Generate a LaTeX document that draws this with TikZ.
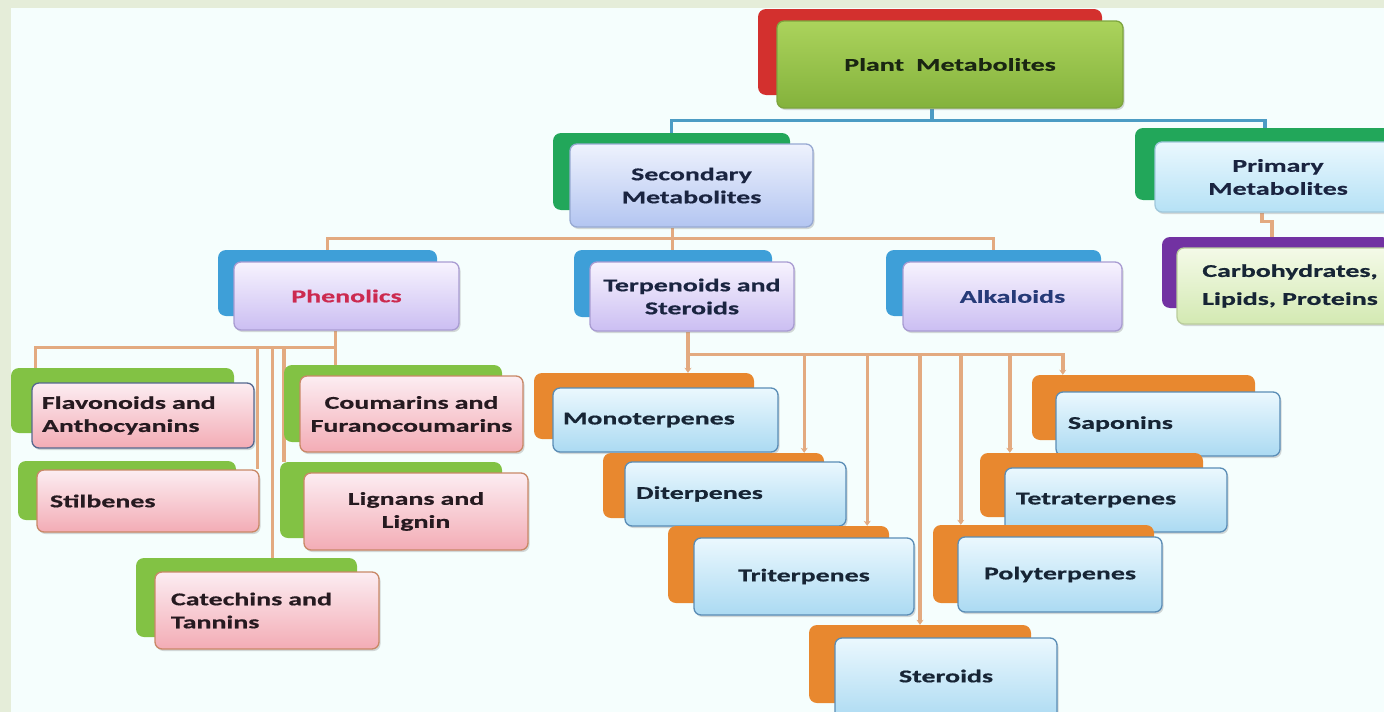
\documentclass[tikz,border=0pt]{standalone}
\usepackage{fontspec}
\newfontfamily\dfont{Carlito}[FakeStretch=1.55,FakeBold=0.6]
\usetikzlibrary{arrows.meta,shadows}
\pgfdeclarelayer{bgl}
\pgfdeclarelayer{lines}
\pgfsetlayers{bgl,lines,main}
\definecolor{bgborder}{HTML}{E5EDD9}
\definecolor{bginner}{HTML}{F5FEFD}
\definecolor{cred}{HTML}{D3302E}
\definecolor{plTop}{HTML}{ABD35C}
\definecolor{plBot}{HTML}{84B23C}
\definecolor{plLine}{HTML}{7DA53E}
\definecolor{cemer}{HTML}{22A75A}
\definecolor{secTop}{HTML}{EEF2FD}
\definecolor{secBot}{HTML}{B3C5F1}
\definecolor{secLine}{HTML}{97A9D2}
\definecolor{priTop}{HTML}{EAF8FE}
\definecolor{priBot}{HTML}{B5E1F5}
\definecolor{priLine}{HTML}{A0C8DC}
\definecolor{cpurp}{HTML}{7232A2}
\definecolor{carTop}{HTML}{F4FAE8}
\definecolor{carBot}{HTML}{D3E9B2}
\definecolor{carLine}{HTML}{BACD9C}
\definecolor{cblue}{HTML}{3E9FD8}
\definecolor{lavTop}{HTML}{F7F3FE}
\definecolor{lavBot}{HTML}{CBBEF2}
\definecolor{lavLine}{HTML}{A99CD2}
\definecolor{lgreen}{HTML}{82C244}
\definecolor{pinkTop}{HTML}{FCEDF2}
\definecolor{pinkBot}{HTML}{F3ACB5}
\definecolor{pinkLine}{HTML}{C98867}
\definecolor{flavLine}{HTML}{56688F}
\definecolor{corange}{HTML}{E8882F}
\definecolor{cyTop}{HTML}{EBF8FE}
\definecolor{cyBot}{HTML}{ABDAF2}
\definecolor{cyLine}{HTML}{5A8DB6}
\definecolor{conn}{HTML}{E3AA80}
\definecolor{connB}{HTML}{4C9CC4}
\definecolor{txNavy}{HTML}{1A2440}
\definecolor{txGreen}{HTML}{1A2612}
\definecolor{txPink}{HTML}{CC2A50}
\definecolor{txAlk}{HTML}{263A78}
\definecolor{txDark}{HTML}{261A20}
\definecolor{txBlue}{HTML}{172535}
\tikzset{
  backbox/.style={fill=#1, draw=none, rounded corners=8pt},
  frontbox/.style n args={3}{top color=#1, bottom color=#2, draw=#3, line width=1.3pt,
    rounded corners=7pt, drop shadow={shadow xshift=1.5pt, shadow yshift=-2pt, opacity=.3}},
  lbl/.style={font=\dfont\bfseries\fontsize{18}{23}\selectfont, align=center},
  lblL/.style={font=\dfont\bfseries\fontsize{18}{23}\selectfont, align=left},
  oline/.style={draw=conn, line width=3.4pt},
  bline/.style={draw=connB, line width=3.2pt},
  oarr/.style={oline, -{Stealth[length=5pt,width=7pt]}},
}
\newcommand\mkbox[8][11]{%
  \pgfmathsetmacro\bxw{#6-#4}%
  \pgfmathsetmacro\bxh{#7-#5}%
  \pgfmathsetmacro\bxt{#6-#4-2*#1}%
  \pgfmathsetmacro\bxcx{(#4+#6)/2}%
  \pgfmathsetmacro\bxcy{(#5+#7)/2}%
  \node[#3, minimum width=\bxw pt, minimum height=\bxh pt, inner xsep=#1pt,
        inner ysep=0pt, text width=\bxt pt] (#2) at (\bxcx,\bxcy) {#8};%
}
\begin{document}
\begin{tikzpicture}[x=1pt,y=-1pt]
\useasboundingbox (0,0) rectangle (1384,712);
\path[clip] (0,0) rectangle (1384,712);
\begin{pgfonlayer}{bgl}
  \fill[bgborder] (0,0) rectangle (1384,712);
  \fill[bginner] (11,8) rectangle (1384,712);
\end{pgfonlayer}

% Level 0
\mkbox{pmB}{backbox=cred}{758}{9}{1102}{95}{}
\mkbox{pm}{frontbox={plTop}{plBot}{plLine},lbl,text=txGreen}{777}{21}{1123}{108}{Plant\ \ Metabolites}

% Level 1
\mkbox{smB}{backbox=cemer}{553}{133}{790}{210}{}
\mkbox{sm}{frontbox={secTop}{secBot}{secLine},lbl,text=txNavy}{570}{144}{813}{227}{Secondary\\Metabolites}
\mkbox{prB}{backbox=cemer}{1135}{128}{1395}{200}{}
\mkbox{pr}{frontbox={priTop}{priBot}{priLine},lbl,text=txNavy}{1155}{142}{1401}{212}{Primary\\Metabolites}

% Level 2
\mkbox{caB}{backbox=cpurp}{1162}{237}{1390}{308}{}
\mkbox{carb}{frontbox={carTop}{carBot}{carLine},lbl,text=txBlue,
  font=\dfont\bfseries\fontsize{18}{28}\selectfont}{1177}{248}{1403}{324}{Carbohydrates,\\Lipids, Proteins}
\mkbox{phB}{backbox=cblue}{218}{250}{437}{316}{}
\mkbox{ph}{frontbox={lavTop}{lavBot}{lavLine},lbl,text=txPink}{234}{262}{459}{330}{Phenolics}
\mkbox{tsB}{backbox=cblue}{574}{250}{772}{317}{}
\mkbox{ts}{frontbox={lavTop}{lavBot}{lavLine},lbl,text=txNavy}{590}{262}{794}{331}{Terpenoids and\\Steroids}
\mkbox{alB}{backbox=cblue}{886}{250}{1101}{316}{}
\mkbox{al}{frontbox={lavTop}{lavBot}{lavLine},lbl,text=txAlk}{903}{262}{1122}{331}{Alkaloids}

% Phenolic children
\mkbox{flB}{backbox=lgreen}{11}{368}{234}{433}{}
\mkbox[10]{fl}{frontbox={pinkTop}{pinkBot}{flavLine},lblL,text=txDark}{32}{383}{254}{448}{Flavonoids and\\Anthocyanins}
\mkbox{coB}{backbox=lgreen}{284}{365}{502}{442}{}
\mkbox[7]{co}{frontbox={pinkTop}{pinkBot}{pinkLine},lbl,text=txDark}{300}{376}{523}{452}{Coumarins and\\Furanocoumarins}
\mkbox{stilB}{backbox=lgreen}{18}{461}{236}{520}{}
\mkbox[13]{stil}{frontbox={pinkTop}{pinkBot}{pinkLine},lblL,text=txDark}{37}{470}{259}{532}{Stilbenes}
\mkbox{liB}{backbox=lgreen}{280}{462}{502}{538}{}
\mkbox{li}{frontbox={pinkTop}{pinkBot}{pinkLine},lbl,text=txDark}{304}{473}{528}{550}{Lignans and\\Lignin}
\mkbox{catB}{backbox=lgreen}{136}{558}{357}{637}{}
\mkbox[16]{cat}{frontbox={pinkTop}{pinkBot}{pinkLine},lblL,text=txDark}{155}{572}{379}{649}{Catechins and\\Tannins}

% Terpenoid children
\mkbox{moB}{backbox=corange}{534}{373}{754}{439}{}
\mkbox[10]{mo}{frontbox={cyTop}{cyBot}{cyLine},lblL,text=txBlue}{553}{388}{778}{452}{Monoterpenes}
\mkbox{saB}{backbox=corange}{1032}{375}{1255}{440}{}
\mkbox[12]{sa}{frontbox={cyTop}{cyBot}{cyLine},lblL,text=txBlue}{1056}{392}{1280}{456}{Saponins}
\mkbox{diB}{backbox=corange}{603}{453}{824}{518}{}
\mkbox[11]{di}{frontbox={cyTop}{cyBot}{cyLine},lblL,text=txBlue}{625}{462}{846}{526}{Diterpenes}
\mkbox{teB}{backbox=corange}{980}{453}{1203}{517}{}
\mkbox[11]{te}{frontbox={cyTop}{cyBot}{cyLine},lblL,text=txBlue}{1005}{468}{1227}{532}{Tetraterpenes}
\mkbox{trB}{backbox=corange}{668}{526}{889}{603}{}
\mkbox{tr}{frontbox={cyTop}{cyBot}{cyLine},lbl,text=txBlue}{694}{538}{914}{615}{Triterpenes}
\mkbox{poB}{backbox=corange}{933}{525}{1154}{603}{}
\mkbox{po}{frontbox={cyTop}{cyBot}{cyLine},lbl,text=txBlue}{958}{537}{1162}{612}{Polyterpenes}
\mkbox{sterB}{backbox=corange}{809}{625}{1031}{703}{}
\mkbox{ster}{frontbox={cyTop}{cyBot}{cyLine},lbl,text=txBlue}{835}{638}{1057}{722}{\raisebox{8pt}{Steroids}}

% Connectors
\begin{pgfonlayer}{lines}
  \draw[bline] ([xshift=-18pt]pm.south) -- ++(0,12) coordinate (pmj);
  \draw[bline] (smB.north) |- (pmj) -| (prB.north);
  \draw[oline] ([xshift=-16pt]pr.south) -- ++(0,9) -| ([xshift=-4pt]caB.north);

  \draw[oline] ([xshift=-19pt]sm.south) -- ++(0,11) coordinate (smj);
  \draw[oline] (phB.north) |- (smj) -| (alB.north);
  \draw[oline] (smj) -- (smj |- tsB.north);

  \draw[oline] ([xshift=-11pt]ph.south) -- ++(0,17) coordinate (phj);
  \draw[oline] (phj) -| ([xshift=-87pt]flB.north);
  \draw[oline] (phj) -- (phj |- coB.north);
  \draw[oline] ([xshift=-2pt]stil.north east |- phj) -- ([xshift=-2pt]stil.north east);
  \draw[oline] ([xshift=26pt]catB.north |- phj) -- ([xshift=26pt]catB.north);
  \draw[oline] ([xshift=4pt]liB.north west |- phj) -- ([xshift=4pt]liB.north west);

  \draw[oline] ([xshift=-4pt]ts.south) -- ++(0,23) coordinate (tsj);
  \draw[oarr] (tsj) -| ([xshift=31pt]saB.north west);
  \draw[oarr] (tsj) -- (tsj |- moB.north);
  \draw[oarr] ([xshift=-20pt]diB.north east |- tsj) -- ([xshift=-20pt]diB.north east);
  \draw[oarr] ([xshift=-22pt]trB.north east |- tsj) -- ([xshift=-22pt]trB.north east);
  \draw[oarr] (sterB.north |- tsj) -- (sterB.north);
  \draw[oarr] ([xshift=28pt]poB.north west |- tsj) -- ([xshift=28pt]poB.north west);
  \draw[oarr] ([xshift=30pt]teB.north west |- tsj) -- ([xshift=30pt]teB.north west);
\end{pgfonlayer}
\end{tikzpicture}
\end{document}
